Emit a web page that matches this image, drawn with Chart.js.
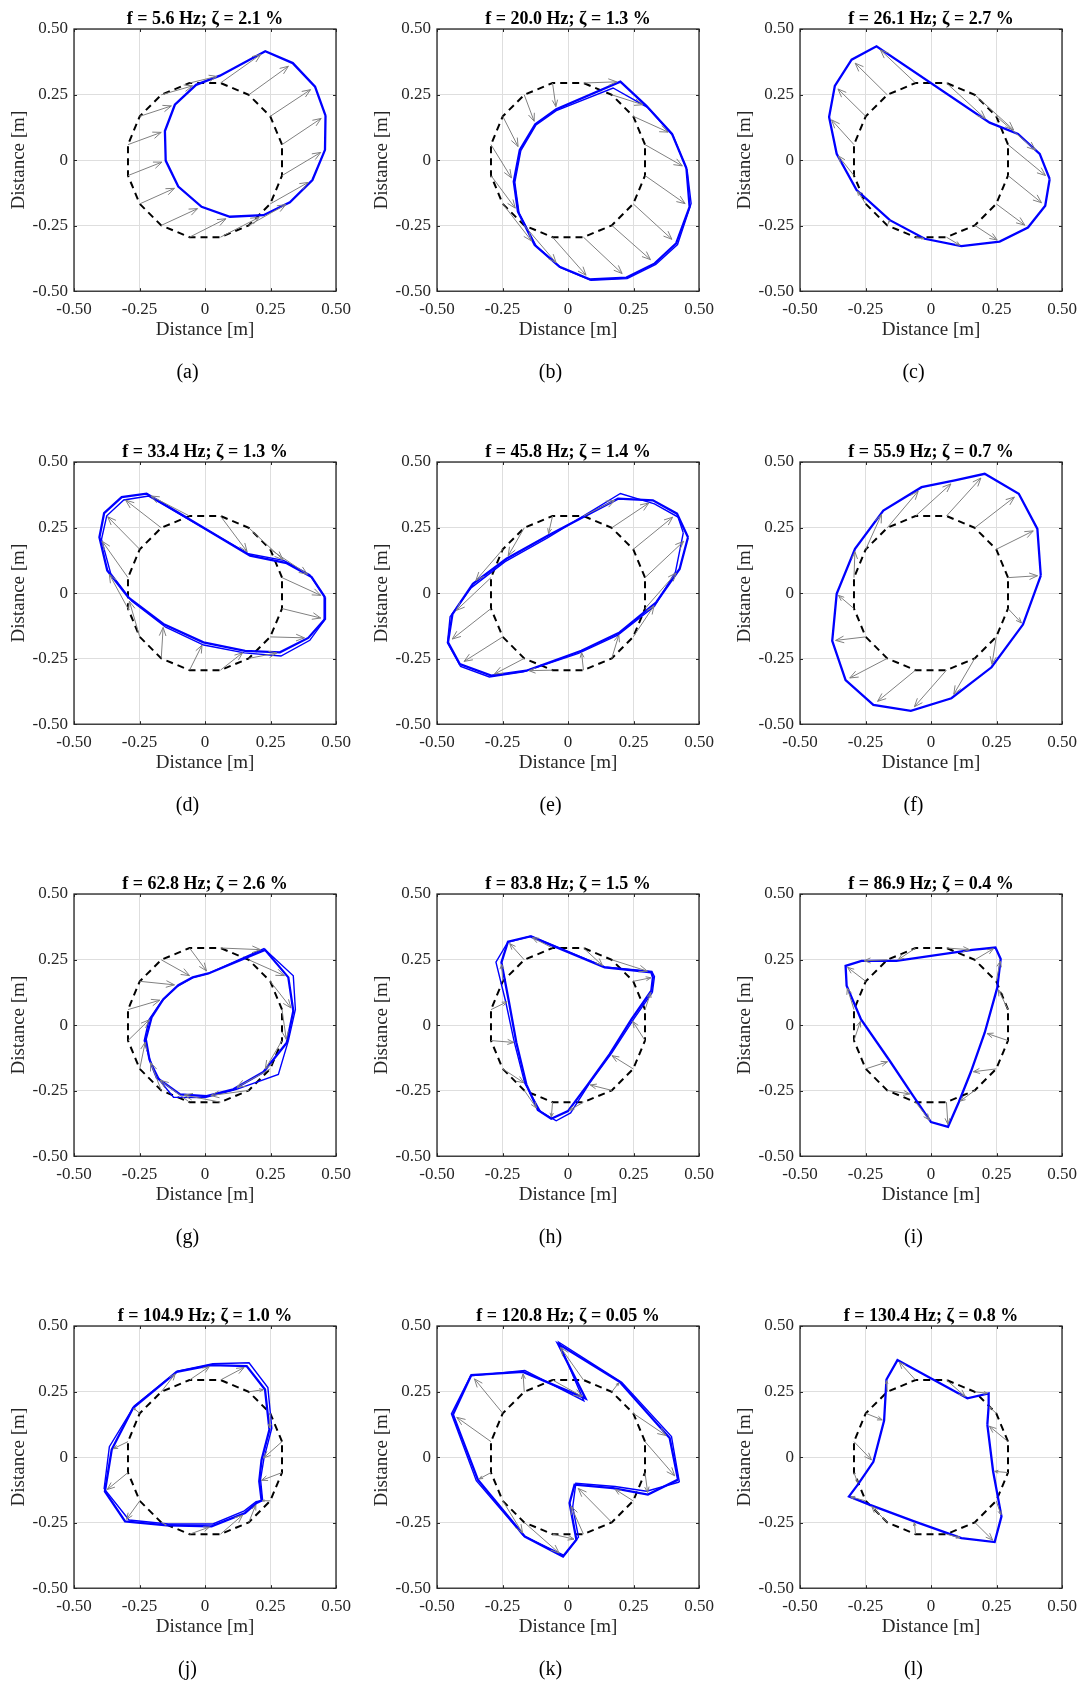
<!DOCTYPE html>
<html>
<head>
<meta charset="utf-8">
<script src="https://cdn.jsdelivr.net/npm/chart.js@4.4.0/dist/chart.umd.min.js"></script>
<style>
  body { margin: 0; background: #fff; }
  #sheet { position: relative; width: 1084px; height: 1684px; }
  #sheet canvas { position: absolute; }
</style>
</head>
<body>
<div id="sheet"></div>
<script>
// modal frequencies / damping for each panel
const freqHz = [5.6, 20.0, 26.1, 33.4, 45.8, 55.9, 62.8, 83.8, 86.9, 104.9, 120.8, 130.4];
const dampingPct = [2.1, 1.3, 2.7, 1.3, 1.4, 0.7, 2.6, 1.5, 0.4, 1.0, 0.05, 0.8];
const panelLetters = ['a', 'b', 'c', 'd', 'e', 'f', 'g', 'h', 'i', 'j', 'k', 'l'];
const axisTicks = [-0.5, -0.25, 0, 0.25, 0.5];

// undeformed ring, 16 nodes
const undeformed = [
  [0.294, 0.059], [0.249, 0.167], [0.167, 0.249], [0.059, 0.294],
  [-0.059, 0.294], [-0.167, 0.249], [-0.249, 0.167], [-0.294, 0.059],
  [-0.294, -0.059], [-0.249, -0.167], [-0.167, -0.249], [-0.059, -0.294],
  [0.059, -0.294], [0.167, -0.249], [0.249, -0.167], [0.294, -0.059]
];

// deformed shapes (same node order)
const modeA = [[0.46,0.17],[0.42,0.28],[0.335,0.37],[0.23,0.415],[0.057,0.322],[-0.034,0.287],[-0.115,0.211],[-0.153,0.111],[-0.150,-0.002],[-0.102,-0.101],[-0.013,-0.178],[0.095,-0.216],[0.223,-0.210],[0.324,-0.161],[0.410,-0.076],[0.458,0.039]];
const modeB = [[0.452,-0.031],[0.397,0.100],[0.299,0.207],[0.200,0.299],[-0.045,0.194],[-0.125,0.137],[-0.184,0.039],[-0.207,-0.082],[-0.191,-0.197],[-0.127,-0.324],[-0.032,-0.407],[0.083,-0.455],[0.223,-0.448],[0.331,-0.394],[0.413,-0.317],[0.464,-0.178]];
const modeB2 = [[0.455,-0.040],[0.400,0.095],[0.305,0.200],[0.172,0.275],[-0.042,0.190],[-0.122,0.134],[-0.180,0.036],[-0.203,-0.085],[-0.187,-0.201],[-0.122,-0.327],[-0.028,-0.410],[0.088,-0.458],[0.226,-0.452],[0.335,-0.398],[0.418,-0.322],[0.470,-0.165]];
const modeC = [[0.453,-0.072],[0.415,0.024],[0.332,0.100],[0.224,0.143],[-0.208,0.434],[-0.303,0.383],[-0.367,0.283],[-0.389,0.164],[-0.360,0.024],[-0.284,-0.114],[-0.157,-0.229],[-0.024,-0.300],[0.116,-0.328],[0.262,-0.311],[0.370,-0.257],[0.436,-0.174]];
const modeD = [[0.458,-0.016],[0.407,0.061],[0.312,0.114],[0.172,0.143],[-0.223,0.379],[-0.318,0.366],[-0.385,0.305],[-0.403,0.213],[-0.373,0.086],[-0.293,-0.016],[-0.159,-0.118],[-0.006,-0.188],[0.153,-0.220],[0.286,-0.226],[0.394,-0.171],[0.458,-0.099]];
const modeD2 = [[0.455,-0.012],[0.400,0.070],[0.300,0.125],[0.165,0.150],[-0.215,0.370],[-0.310,0.355],[-0.375,0.295],[-0.395,0.205],[-0.360,0.075],[-0.280,-0.030],[-0.150,-0.130],[-0.005,-0.198],[0.150,-0.228],[0.290,-0.240],[0.400,-0.180],[0.455,-0.105]];
const modeE = [[0.458,0.213],[0.416,0.303],[0.324,0.354],[0.191,0.360],[-0.076,0.220],[-0.235,0.131],[-0.363,0.035],[-0.441,-0.080],[-0.458,-0.188],[-0.413,-0.271],[-0.293,-0.315],[-0.159,-0.296],[0.051,-0.220],[0.197,-0.150],[0.337,-0.035],[0.426,0.092]];
const modeE2 = [[0.440,0.230],[0.420,0.290],[0.330,0.340],[0.200,0.380],[-0.080,0.210],[-0.240,0.120],[-0.370,0.020],[-0.450,-0.090],[-0.460,-0.190],[-0.410,-0.280],[-0.300,-0.320],[-0.170,-0.300],[0.040,-0.230],[0.190,-0.160],[0.330,-0.050],[0.410,0.080]];
const modeF = [[0.419,0.067],[0.406,0.245],[0.335,0.379],[0.205,0.455],[0.091,0.430],[-0.036,0.404],[-0.182,0.315],[-0.290,0.169],[-0.360,-0.003],[-0.377,-0.182],[-0.326,-0.332],[-0.220,-0.426],[-0.077,-0.449],[0.078,-0.401],[0.231,-0.283],[0.351,-0.120]];
const modeG = [[0.312,-0.067],[0.337,0.054],[0.318,0.182],[0.229,0.287],[0.013,0.197],[-0.047,0.182],[-0.102,0.152],[-0.159,0.099],[-0.204,0.029],[-0.226,-0.054],[-0.212,-0.131],[-0.184,-0.201],[-0.095,-0.264],[0.006,-0.271],[0.108,-0.245],[0.223,-0.179]];
const modeG2 = [[0.318,-0.060],[0.345,0.060],[0.337,0.188],[0.225,0.292],[0.013,0.197],[-0.050,0.180],[-0.105,0.148],[-0.165,0.092],[-0.214,0.020],[-0.232,-0.060],[-0.208,-0.140],[-0.170,-0.215],[-0.120,-0.275],[0.000,-0.276],[0.120,-0.245],[0.280,-0.188]];
const modeH = [[0.318,0.131],[0.324,0.182],[0.318,0.201],[0.140,0.220],[-0.144,0.338],[-0.229,0.318],[-0.254,0.239],[-0.226,0.092],[-0.197,-0.067],[-0.159,-0.226],[-0.115,-0.324],[-0.064,-0.357],[0.000,-0.328],[0.076,-0.226],[0.159,-0.111],[0.242,0.022]];
const modeH2 = [[0.322,0.125],[0.330,0.185],[0.320,0.205],[0.140,0.222],[-0.140,0.340],[-0.230,0.316],[-0.275,0.240],[-0.238,0.090],[-0.205,-0.065],[-0.165,-0.222],[-0.105,-0.330],[-0.045,-0.365],[0.010,-0.335],[0.082,-0.222],[0.168,-0.105],[0.252,0.025]];
const modeI = [[0.253,0.143],[0.266,0.252],[0.246,0.296],[0.157,0.287],[-0.132,0.245],[-0.265,0.245],[-0.326,0.226],[-0.322,0.150],[-0.267,0.022],[-0.157,-0.137],[-0.072,-0.264],[0.000,-0.370],[0.065,-0.388],[0.106,-0.294],[0.152,-0.179],[0.205,-0.029]];
const modeJ = [[0.216,-0.010],[0.246,0.105],[0.229,0.258],[0.159,0.347],[0.025,0.351],[-0.108,0.325],[-0.274,0.188],[-0.356,0.029],[-0.382,-0.131],[-0.305,-0.245],[-0.146,-0.260],[0.025,-0.264],[0.153,-0.213],[0.197,-0.175],[0.216,-0.166],[0.207,-0.092]];
const modeJ2 = [[0.225,-0.005],[0.255,0.110],[0.240,0.265],[0.168,0.360],[0.030,0.356],[-0.105,0.328],[-0.270,0.195],[-0.365,0.040],[-0.385,-0.120],[-0.290,-0.240],[-0.140,-0.255],[0.030,-0.255],[0.150,-0.205],[0.195,-0.170],[0.220,-0.165],[0.212,-0.085]];
const modeK = [[0.420,-0.086],[0.388,0.073],[0.197,0.287],[-0.038,0.432],[0.067,0.224],[-0.172,0.325],[-0.369,0.313],[-0.439,0.162],[-0.344,-0.086],[-0.165,-0.303],[-0.019,-0.379],[0.032,-0.315],[0.006,-0.175],[0.025,-0.105],[0.172,-0.118],[0.305,-0.143]];
const modeK2 = [[0.425,-0.095],[0.395,0.078],[0.205,0.285],[-0.035,0.438],[0.060,0.215],[-0.165,0.330],[-0.372,0.310],[-0.445,0.165],[-0.350,-0.090],[-0.170,-0.300],[-0.015,-0.375],[0.040,-0.305],[0.018,-0.190],[0.030,-0.100],[0.180,-0.112],[0.300,-0.130]];
const modeL = [[0.215,0.124],[0.220,0.194],[0.220,0.243],[0.139,0.224],[-0.128,0.370],[-0.170,0.296],[-0.179,0.139],[-0.220,-0.018],[-0.278,-0.103],[-0.313,-0.150],[-0.233,-0.182],[-0.064,-0.245],[0.116,-0.309],[0.243,-0.324],[0.269,-0.226],[0.237,-0.054]];

const panelShapes = [
  [modeA], [modeB, modeB2], [modeC],
  [modeD, modeD2], [modeE, modeE2], [modeF],
  [modeG, modeG2], [modeH, modeH2], [modeI],
  [modeJ, modeJ2], [modeK, modeK2], [modeL]
];

const SERIF = "'Liberation Serif', 'Times New Roman', serif";
const arrowScale = 0.9;
const colLeft = [0, 363, 726];
const rowTop = [0, 433, 865, 1297];

function closed(pts) {
  return pts.concat([pts[0]]).map(p => ({ x: p[0], y: p[1] }));
}

function arrowData(shape) {
  const out = [];
  undeformed.forEach((p, i) => {
    const q = shape[i];
    out.push({ x: p[0], y: p[1] });
    out.push({ x: p[0] + arrowScale * (q[0] - p[0]), y: p[1] + arrowScale * (q[1] - p[1]) });
    out.push({ x: p[0], y: null });
  });
  return out;
}

const arrowHeads = {
  id: 'arrowHeads',
  afterDatasetsDraw(chart) {
    const ctx = chart.ctx;
    chart.data.datasets.forEach((ds, i) => {
      if (!ds.arrows) return;
      const pts = chart.getDatasetMeta(i).data;
      ctx.save();
      ctx.strokeStyle = ds.borderColor;
      ctx.lineWidth = 1;
      for (let j = 0; j + 1 < pts.length; j += 3) {
        const a = pts[j], b = pts[j + 1];
        const dx = b.x - a.x, dy = b.y - a.y;
        const len = Math.hypot(dx, dy);
        if (len < 2) continue;
        const h = Math.min(9, len * 0.3);
        const ang = Math.atan2(dy, dx);
        ctx.beginPath();
        ctx.moveTo(b.x - h * Math.cos(ang - 0.38), b.y - h * Math.sin(ang - 0.38));
        ctx.lineTo(b.x, b.y);
        ctx.lineTo(b.x - h * Math.cos(ang + 0.38), b.y - h * Math.sin(ang + 0.38));
        ctx.stroke();
      }
      ctx.restore();
    });
  }
};

const frame = {
  id: 'frame',
  afterDraw(chart) {
    const { ctx, chartArea: a, scales } = chart;
    ctx.save();
    ctx.strokeStyle = '#262626';
    ctx.lineWidth = 1.3;
    ctx.strokeRect(a.left, a.top, a.width, a.height);
    ctx.lineWidth = 1;
    ctx.beginPath();
    axisTicks.forEach(v => {
      const x = Math.round(scales.x.getPixelForValue(v)) + 0.5;
      const y = Math.round(scales.y.getPixelForValue(v)) + 0.5;
      ctx.moveTo(x, a.bottom); ctx.lineTo(x, a.bottom - 3);
      ctx.moveTo(x, a.top); ctx.lineTo(x, a.top + 3);
      ctx.moveTo(a.left, y); ctx.lineTo(a.left + 3, y);
      ctx.moveTo(a.right, y); ctx.lineTo(a.right - 3, y);
    });
    ctx.stroke();
    ctx.restore();
  }
};

function axis(which) {
  const horiz = which === 'x';
  return {
    type: 'linear',
    position: horiz ? 'bottom' : 'left',
    min: -0.5,
    max: 0.5,
    afterFit(s) { if (horiz) s.height = 58; else s.width = 74; },
    afterBuildTicks(s) { s.ticks = axisTicks.map(v => ({ value: v })); },
    ticks: {
      callback: v => (v === 0 ? '0' : v.toFixed(2)),
      color: '#262626',
      font: { family: SERIF, size: 17 },
      padding: horiz ? 8 : 6,
      maxRotation: 0,
      autoSkip: false
    },
    grid: { color: '#dedede', drawTicks: false },
    border: { display: false },
    title: {
      display: true,
      text: 'Distance [m]',
      color: '#262626',
      font: { family: SERIF, size: 19, lineHeight: 1.2 },
      padding: horiz ? { top: 0, bottom: 7.6 } : { top: 7.6, bottom: 0 }
    }
  };
}

const sheet = document.getElementById('sheet');

panelShapes.forEach((shapes, p) => {
  const canvas = document.createElement('canvas');
  canvas.width = 360;
  canvas.height = 400;
  canvas.style.left = colLeft[p % 3] + 'px';
  canvas.style.top = rowTop[Math.floor(p / 3)] + 'px';
  sheet.appendChild(canvas);

  const d = dampingPct[p];
  const title = 'f = ' + freqHz[p].toFixed(1) + ' Hz; ζ = ' + (d < 0.1 ? d.toFixed(2) : d.toFixed(1)) + ' %';

  const datasets = [{
    data: arrowData(shapes[0]),
    arrows: true,
    showLine: true,
    spanGaps: false,
    borderColor: '#808080',
    borderWidth: 1,
    pointRadius: 0,
    order: 1
  }];
  shapes.forEach((s, k) => {
    datasets.push({
      data: closed(s),
      showLine: true,
      borderColor: '#0000ff',
      borderWidth: k === 0 ? 2.3 : 1.4,
      pointRadius: 0,
      order: 2
    });
  });
  datasets.push({
    data: closed(undeformed),
    showLine: true,
    borderColor: '#000000',
    borderWidth: 2,
    borderDash: [7, 5],
    pointRadius: 0,
    order: 3
  });

  new Chart(canvas, {
    type: 'scatter',
    data: { datasets },
    options: {
      responsive: false,
      animation: false,
      events: [],
      layout: { padding: { left: 0, right: 24, top: 0, bottom: 14.8 } },
      plugins: {
        legend: { display: false },
        tooltip: { enabled: false },
        title: {
          display: true,
          fullSize: false,
          text: title,
          color: '#000',
          font: { family: SERIF, size: 18, weight: 'bold', lineHeight: 1.1 },
          padding: { top: 9.2, bottom: 0 }
        },
        subtitle: {
          display: true,
          fullSize: false,
          position: 'bottom',
          // trailing spaces nudge the label left of the axes centre, as in the figure
          text: '(' + panelLetters[p] + ')\u2002\u2002\u2002 ',
          color: '#000',
          font: { family: SERIF, size: 20, lineHeight: 1.2 },
          padding: { top: 12, bottom: 0 }
        }
      },
      scales: { x: axis('x'), y: axis('y') }
    },
    plugins: [arrowHeads, frame]
  });
});
</script>
</body>
</html>
